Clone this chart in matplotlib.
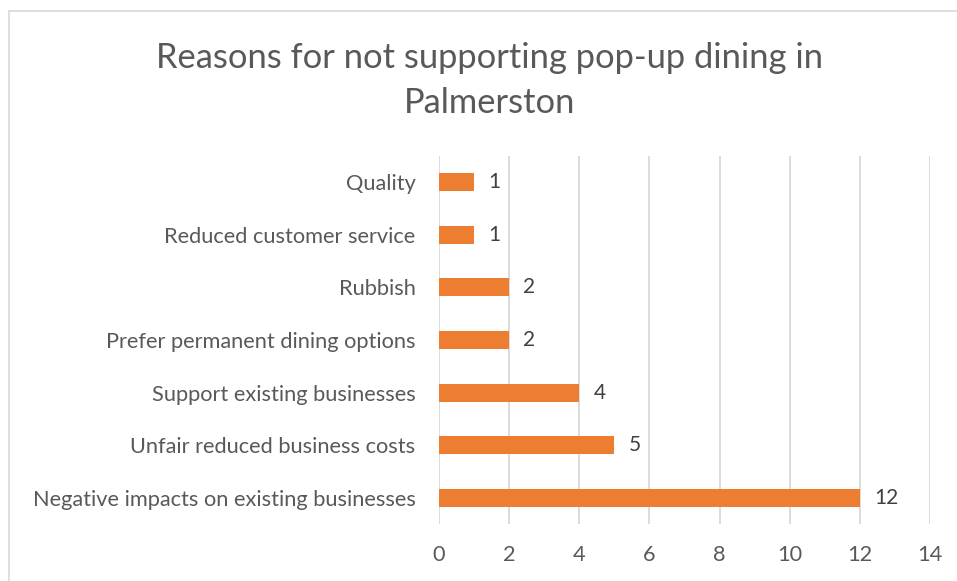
import matplotlib
matplotlib.use("Agg")
import matplotlib.pyplot as plt
from matplotlib.patches import Rectangle

categories = ["Quality", "Reduced customer service", "Rubbish",
              "Prefer permanent dining options", "Support existing businesses",
              "Unfair reduced business costs", "Negative impacts on existing businesses"]
values = [1, 1, 2, 2, 4, 5, 12]
xticks = [0, 2, 4, 6, 8, 10, 12, 14]

plt.rcParams['font.family'] = ['Lato', 'DejaVu Sans']

fig = plt.figure(figsize=(9.57, 5.81), dpi=100)
ax = fig.add_axes([439/957, 1-524.3/581, (930-439)/957, (524.3-155.7)/581])

ypos = list(range(len(categories)))[::-1]
ax.barh(ypos, values, height=0.34, color="#ED7D31", zorder=3)
for y, v in zip(ypos, values):
    ax.text(v + 0.4, y, str(v), va="center", ha="left", fontsize=15, color="#404040")

ax.set_xlim(0, 14)
ax.set_ylim(-0.5, len(categories) - 0.5)
ax.set_yticks(ypos)
ax.set_yticklabels(categories)
ax.set_xticks(xticks)
ax.set_xticklabels([str(t) for t in xticks])
ax.tick_params(axis="both", length=0, labelsize=15.7, labelcolor="#595959")
ax.tick_params(axis="y", pad=17)
ax.tick_params(axis="x", pad=15)
ax.grid(axis="x", color="#D9D9D9", linewidth=1.3, zorder=0)
for s in ax.spines.values():
    s.set_visible(False)

fig.text(490/957, 1-80.5/581, "Reasons for not supporting pop-up dining in\nPalmerston",
         ha="center", va="center", fontsize=24.8, color="#595959", linespacing=1.5)

fig.patches.append(Rectangle((9/957, -0.1), 1.2, 1-11/581+0.1, transform=fig.transFigure,
                             fill=False, edgecolor="#D9D9D9", linewidth=1.2))

fig.savefig("out.png", dpi=100)
